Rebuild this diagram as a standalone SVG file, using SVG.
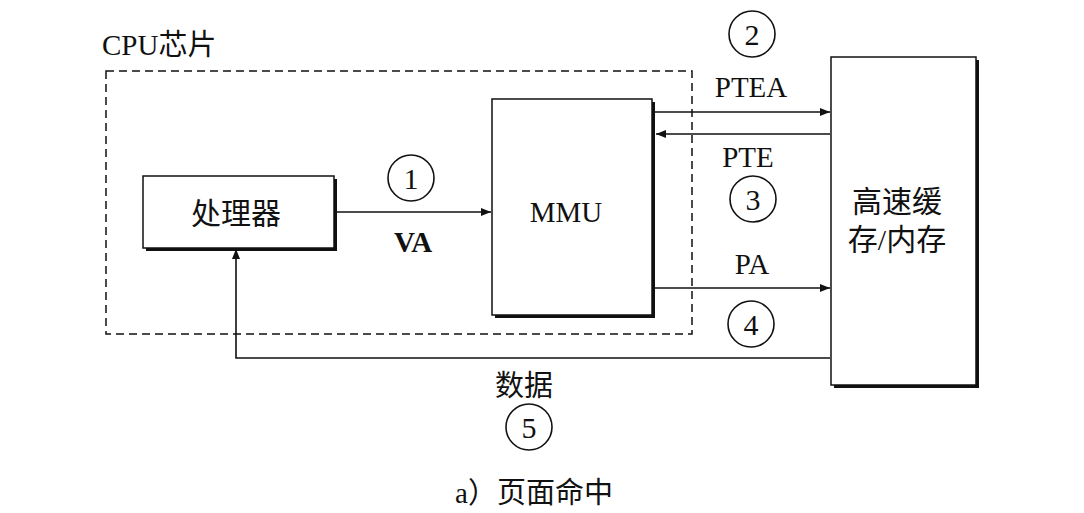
<svg xmlns="http://www.w3.org/2000/svg" width="1084" height="513" viewBox="0 0 1084 513">
<style>
.box{fill:#fff;stroke:#111;stroke-width:1.5}
.shadow{fill:#111}
.ln{stroke:#111;stroke-width:1.6;fill:none}
.circ{fill:none;stroke:#111;stroke-width:1.6}
.lat{font-family:"Liberation Serif",serif;fill:#111}
.cjk{font-family:"Liberation Serif","Noto Sans CJK SC",sans-serif;fill:#111}
.num{font-family:"Liberation Serif",serif;fill:#111;font-size:30px;text-anchor:middle}
</style>
<defs>
<marker id="ah" viewBox="0 0 10 8" refX="10" refY="4" markerWidth="10" markerHeight="8" markerUnits="userSpaceOnUse" orient="auto">
<path d="M0,0 L10,4 L0,8 Z" fill="#111"/>
</marker>
</defs>
<rect width="1084" height="513" fill="#fff"/>
<g id="cpu-chip">
<rect x="106" y="71" width="586" height="263" fill="none" stroke="#111" stroke-width="1.5" stroke-dasharray="8,5"/>
<text class="cjk" x="102" y="55" font-size="29">CPU芯片</text>
</g>
<g id="processor">
<rect class="shadow" x="146" y="179" width="191" height="72"/>
<rect class="box" x="143" y="176" width="191" height="72"/>
<text class="cjk" x="236" y="224" font-size="30" text-anchor="middle">处理器</text>
</g>
<g id="mmu">
<rect class="shadow" x="495" y="102" width="160" height="216"/>
<rect class="box" x="492" y="99" width="160" height="216"/>
<text class="lat" x="566" y="222" font-size="29" text-anchor="middle">MMU</text>
</g>
<g id="cache">
<rect class="shadow" x="834" y="60" width="145" height="328"/>
<rect class="box" x="831" y="57" width="145" height="328"/>
<text class="cjk" x="897" y="212" font-size="30" text-anchor="middle">高速缓</text>
<text class="cjk" x="897" y="250" font-size="30" text-anchor="middle">存/内存</text>
</g>
<g id="connectors">
<line class="ln" x1="334" y1="212" x2="491" y2="212" marker-end="url(#ah)"/>
<line class="ln" x1="655" y1="112" x2="830" y2="112" marker-end="url(#ah)"/>
<line class="ln" x1="830" y1="134" x2="656" y2="134" marker-end="url(#ah)"/>
<line class="ln" x1="655" y1="288" x2="830" y2="288" marker-end="url(#ah)"/>
<polyline class="ln" points="830,358 236,358 236,249" marker-end="url(#ah)"/>
</g>
<g id="labels">
<circle class="circ" cx="411" cy="178" r="23"/>
<text class="num" x="411" y="189">1</text>
<text class="lat" x="413" y="252" font-size="29" text-anchor="middle" font-weight="bold">VA</text>
<circle class="circ" cx="752" cy="34" r="23"/>
<text class="num" x="752" y="45">2</text>
<text class="lat" x="751" y="97" font-size="29" text-anchor="middle">PTEA</text>
<text class="lat" x="748" y="167" font-size="29" text-anchor="middle">PTE</text>
<circle class="circ" cx="753" cy="199" r="23"/>
<text class="num" x="753" y="210">3</text>
<text class="lat" x="752" y="274" font-size="29" text-anchor="middle">PA</text>
<circle class="circ" cx="751" cy="324" r="23"/>
<text class="num" x="751" y="335">4</text>
<text class="cjk" x="524" y="396" font-size="29" text-anchor="middle">数据</text>
<circle class="circ" cx="529" cy="427" r="23"/>
<text class="num" x="529" y="438">5</text>
<text class="cjk" x="534" y="503" font-size="29" text-anchor="middle">a）页面命中</text>
</g>
</svg>
